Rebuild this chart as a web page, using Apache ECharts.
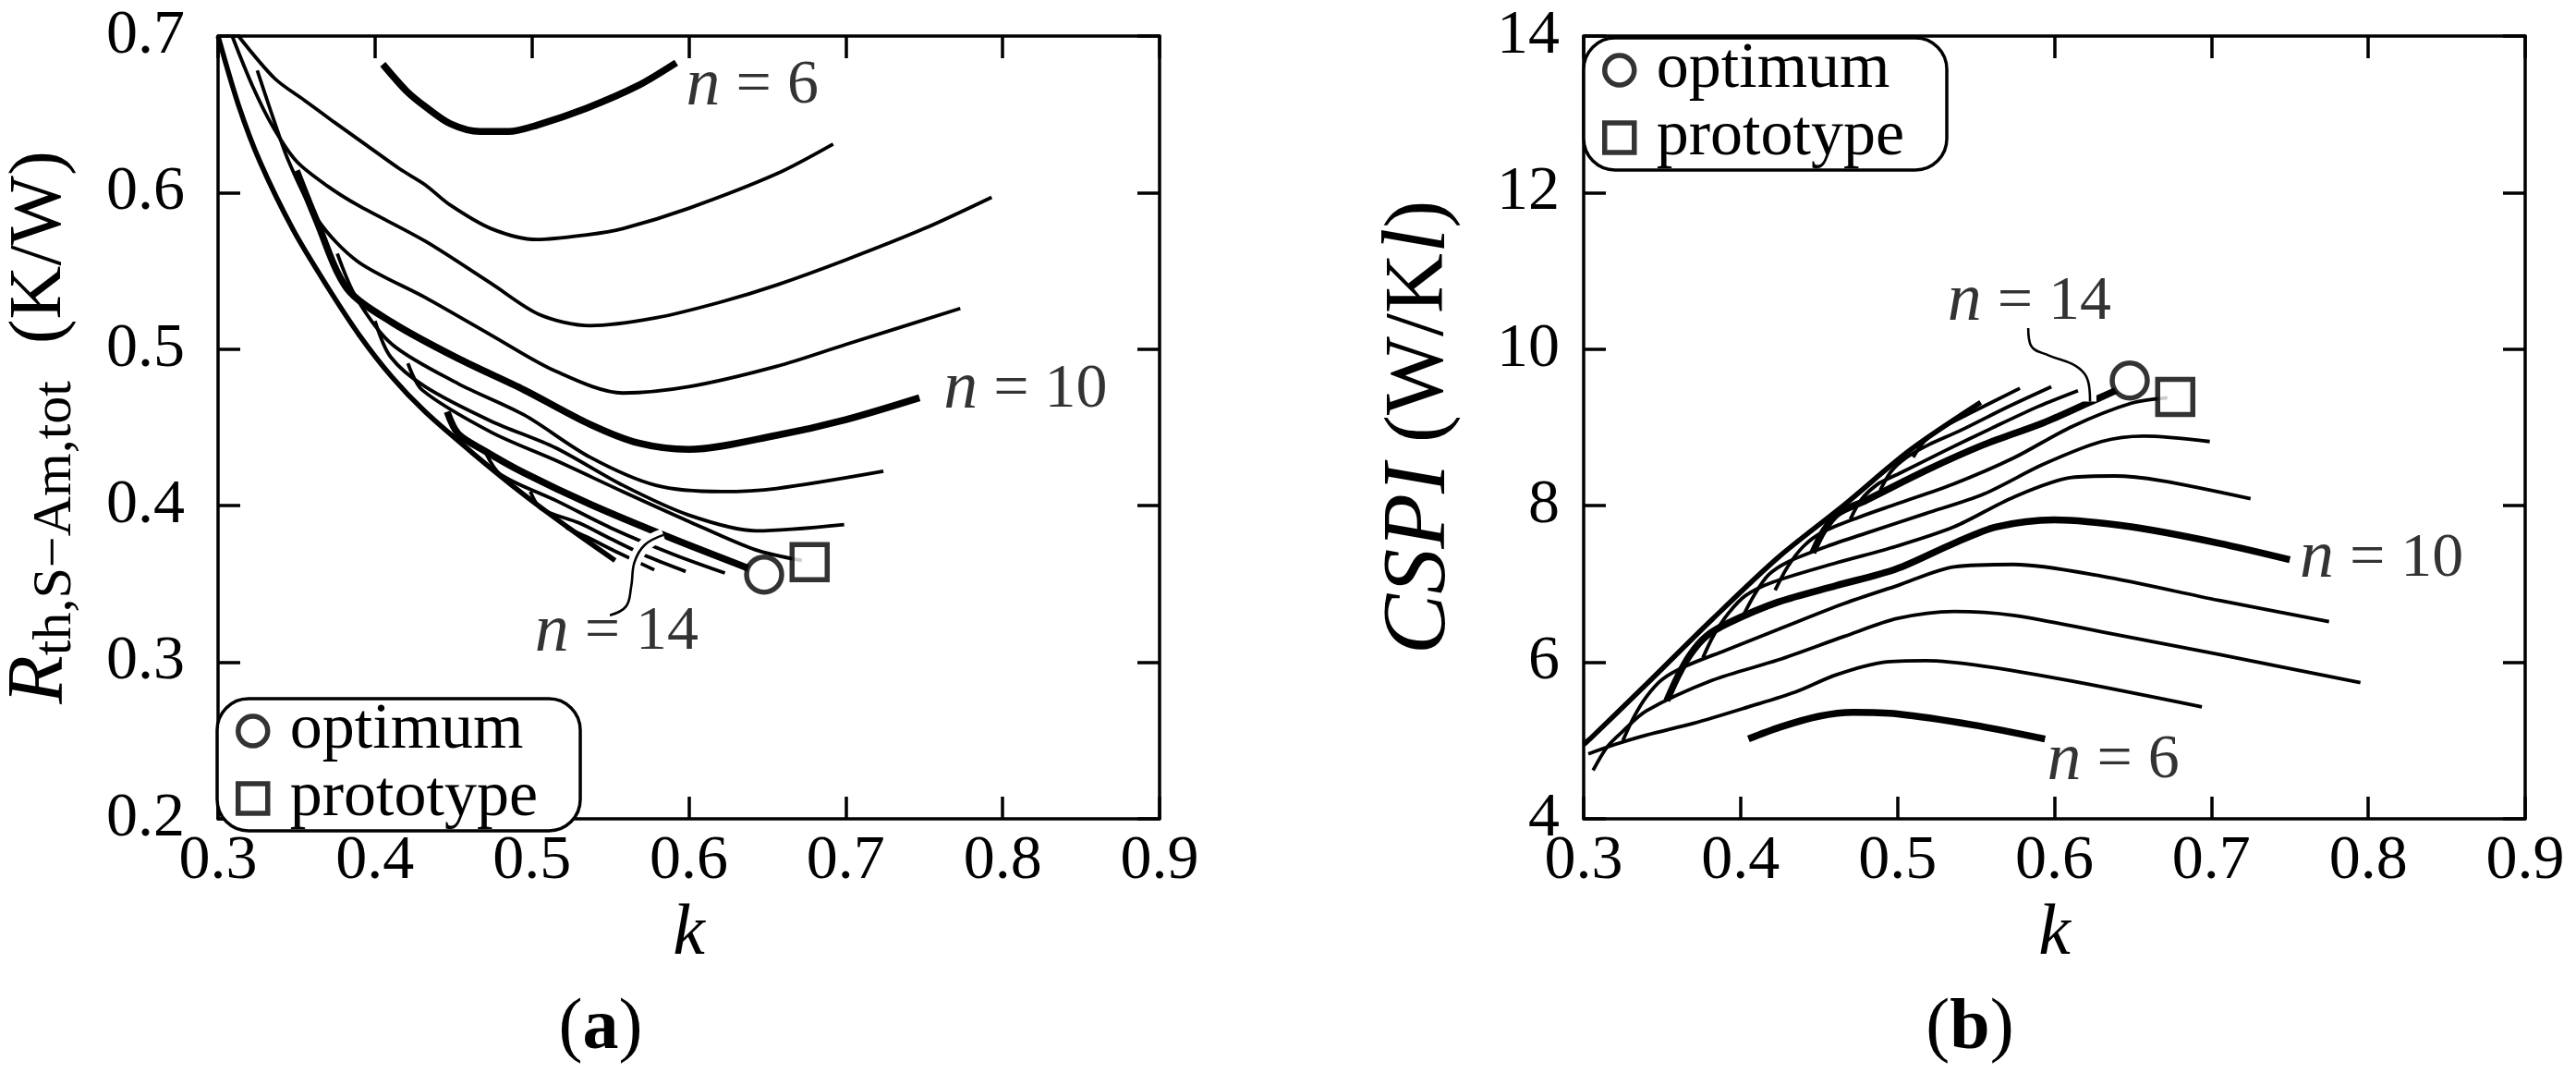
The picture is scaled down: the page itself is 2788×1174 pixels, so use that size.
<!DOCTYPE html>
<html>
<head>
<meta charset="utf-8">
<title>Thermal resistance and CSPI versus k</title>
<script src="https://cdn.jsdelivr.net/npm/echarts@6/dist/echarts.min.js"></script>
<style>
  html, body { margin: 0; padding: 0; background: #fff; }
  #chart { width: 2788px; height: 1174px; }
</style>
</head>
<body>
<div id="chart"></div>
<script>
// fin counts n, one curve per n; thick ones are labelled
const finCounts = [6, 7, 8, 9, 10, 11, 12, 13, 14, 15, 16, 17, 18];
const thickCounts = [6, 10, 14];

// (a) R_th,S-Am,tot (K/W) against k
const rth6 = [[0.405,0.682],[0.420,0.665],[0.432,0.655],[0.448,0.644],[0.467,0.639],[0.485,0.639],[0.503,0.643],[0.535,0.654],[0.567,0.668],[0.592,0.683]];
const rth7 = [[0.313,0.700],[0.336,0.673],[0.355,0.659],[0.374,0.645],[0.395,0.630],[0.416,0.615],[0.432,0.605],[0.448,0.592],[0.474,0.577],[0.503,0.570],[0.535,0.573],[0.558,0.577],[0.600,0.590],[0.656,0.612],[0.692,0.631]];
const rth8 = [[0.309,0.700],[0.322,0.668],[0.335,0.642],[0.350,0.620],[0.370,0.604],[0.389,0.592],[0.432,0.569],[0.474,0.542],[0.505,0.522],[0.537,0.515],[0.579,0.520],[0.620,0.530],[0.656,0.541],[0.700,0.557],[0.750,0.577],[0.793,0.597]];
const rth9 = [[0.325,0.678],[0.335,0.648],[0.345,0.620],[0.364,0.582],[0.389,0.556],[0.432,0.533],[0.474,0.509],[0.515,0.486],[0.558,0.472],[0.600,0.476],[0.656,0.489],[0.700,0.503],[0.773,0.526]];
const rth10 = [[0.350,0.614],[0.362,0.584],[0.382,0.539],[0.411,0.517],[0.453,0.494],[0.495,0.474],[0.537,0.452],[0.568,0.440],[0.600,0.436],[0.656,0.445],[0.700,0.455],[0.747,0.469]];
const rth11 = [[0.376,0.561],[0.388,0.533],[0.411,0.503],[0.453,0.478],[0.495,0.458],[0.537,0.431],[0.579,0.413],[0.621,0.409],[0.656,0.411],[0.724,0.422]];
const rth12 = [[0.400,0.518],[0.410,0.495],[0.432,0.476],[0.474,0.454],[0.515,0.437],[0.558,0.413],[0.600,0.394],[0.643,0.384],[0.699,0.388]];
const rth13 = [[0.421,0.491],[0.430,0.474],[0.474,0.447],[0.515,0.429],[0.558,0.409],[0.600,0.390],[0.642,0.372],[0.672,0.365]];
const rth14 = [[0.446,0.460],[0.453,0.446],[0.470,0.435],[0.495,0.421],[0.537,0.401],[0.587,0.380],[0.638,0.360]];
const rth15 = [[0.471,0.433],[0.480,0.420],[0.516,0.403],[0.550,0.386],[0.590,0.369],[0.623,0.357]];
const rth16 = [[0.499,0.409],[0.506,0.398],[0.530,0.389],[0.550,0.379],[0.575,0.367],[0.598,0.358]];
const rth17 = [[0.522,0.386],[0.535,0.380],[0.555,0.370],[0.578,0.359]];
const rth18 = [[0.300,0.700],[0.313,0.656],[0.327,0.619],[0.348,0.576],[0.369,0.541],[0.390,0.509],[0.411,0.482],[0.432,0.460],[0.463,0.433],[0.495,0.407],[0.526,0.384],[0.553,0.365]];

// (b) CSPI (W/Kl) against k
const cspi6 = [[0.405,5.02],[0.425,5.17],[0.450,5.31],[0.472,5.36],[0.500,5.34],[0.548,5.20],[0.594,5.02]];
const cspi7 = [[0.303,4.83],[0.320,4.95],[0.340,5.07],[0.370,5.22],[0.405,5.43],[0.435,5.62],[0.461,5.84],[0.491,6.00],[0.518,6.02],[0.555,5.95],[0.611,5.76],[0.694,5.43]];
const cspi8 = [[0.306,4.62],[0.315,4.92],[0.325,5.12],[0.340,5.38],[0.382,5.77],[0.424,6.03],[0.466,6.33],[0.500,6.56],[0.536,6.65],[0.574,6.60],[0.630,6.39],[0.705,6.10],[0.795,5.74]];
const cspi9 = [[0.325,5.00],[0.332,5.30],[0.340,5.56],[0.350,5.78],[0.365,5.95],[0.390,6.15],[0.424,6.42],[0.466,6.75],[0.500,6.98],[0.536,7.22],[0.574,7.25],[0.630,7.10],[0.705,6.79],[0.775,6.52]];
const cspi10 = [[0.353,5.51],[0.360,5.82],[0.368,6.10],[0.378,6.33],[0.392,6.50],[0.424,6.77],[0.461,6.98],[0.499,7.19],[0.536,7.52],[0.563,7.73],[0.600,7.82],[0.649,7.73],[0.705,7.52],[0.750,7.31]];
const cspi11 = [[0.376,6.06],[0.383,6.35],[0.392,6.62],[0.403,6.85],[0.420,7.02],[0.461,7.27],[0.499,7.48],[0.536,7.73],[0.574,8.11],[0.611,8.36],[0.638,8.38],[0.668,8.32],[0.725,8.09]];
const cspi12 = [[0.401,6.57],[0.409,6.87],[0.418,7.12],[0.430,7.28],[0.455,7.48],[0.480,7.65],[0.518,7.90],[0.555,8.15],[0.593,8.53],[0.630,8.82],[0.657,8.89],[0.699,8.82]];
const cspi13 = [[0.422,6.92],[0.430,7.22],[0.440,7.48],[0.452,7.66],[0.475,7.85],[0.499,8.02],[0.536,8.28],[0.574,8.61],[0.611,9.01],[0.649,9.31],[0.672,9.38]];
const cspi14 = [[0.446,7.40],[0.453,7.68],[0.462,7.90],[0.480,8.07],[0.518,8.45],[0.555,8.78],[0.593,9.06],[0.619,9.29],[0.640,9.48]];
const cspi15 = [[0.470,7.83],[0.477,8.08],[0.487,8.27],[0.500,8.40],[0.530,8.70],[0.560,8.99],[0.590,9.27],[0.615,9.47]];
const cspi16 = [[0.489,8.20],[0.496,8.44],[0.506,8.62],[0.520,8.78],[0.540,8.96],[0.570,9.26],[0.598,9.52]];
const cspi17 = [[0.510,8.62],[0.517,8.82],[0.527,8.98],[0.545,9.17],[0.578,9.50]];
const cspi18 = [[0.300,4.95],[0.304,5.02],[0.340,5.72],[0.382,6.55],[0.424,7.34],[0.466,8.01],[0.508,8.71],[0.553,9.32]];

// optimum and prototype points
const optimumA = [0.648, 0.356];
const prototypeA = [0.677, 0.364];
const optimumB = [0.648, 9.60];
const prototypeB = [0.677, 9.39];

// curve labels (n value and where the text sits)
const labelNs = [6, 10, 14];
const labelAtA = [[0.598, 0.668], [0.762, 0.474], [0.554, 0.319]];
const labelAtB = [[0.595, 4.74], [0.756, 7.32], [0.584, 10.60]];

// leader lines from the n = 14 labels
const leaderA = [[0.5497,0.330],[0.560,0.3357],[0.5633,0.3484],[0.5654,0.364],[0.572,0.375],[0.5838,0.3813]];
const leaderB = [[0.5833,10.27],[0.5852,10.04],[0.5964,9.92],[0.6114,9.81],[0.619,9.69],[0.622,9.54],[0.6227,9.33]];

const FONT = 'Liberation Serif';
const rthCurves = [rth6, rth7, rth8, rth9, rth10, rth11, rth12, rth13, rth14, rth15, rth16, rth17, rth18];
const cspiCurves = [cspi6, cspi7, cspi8, cspi9, cspi10, cspi11, cspi12, cspi13, cspi14, cspi15, cspi16, cspi17, cspi18];

const chart = echarts.init(document.getElementById('chart'));

function lineWidth(n) {
  if (thickCounts.indexOf(n) >= 0) return 7.5;
  // the last curve runs along the envelope where several curves overlap
  return n === finCounts[finCounts.length - 1] ? 5.5 : 3.8;
}

function curve(n, data, ax) {
  return {
    type: 'line', name: 'n = ' + n, xAxisIndex: ax, yAxisIndex: ax,
    data: data, symbol: 'none', smooth: 0.3, silent: true, z: 2,
    lineStyle: { color: '#000', width: lineWidth(n) }
  };
}

function leader(data, ax) {
  // white halo first, like the gaps in the printed figure
  return [
    { type: 'line', xAxisIndex: ax, yAxisIndex: ax, data: data, symbol: 'none', smooth: 0.4, silent: true, z: 3,
      lineStyle: { color: '#fff', width: 14 } },
    { type: 'line', xAxisIndex: ax, yAxisIndex: ax, data: data, symbol: 'none', smooth: 0.4, silent: true, z: 4,
      lineStyle: { color: '#000', width: 2.6 } }
  ];
}

function curveLabels(at, ax) {
  return {
    type: 'scatter', xAxisIndex: ax, yAxisIndex: ax, symbolSize: 1, silent: true, z: 6,
    itemStyle: { color: 'rgba(0,0,0,0)' },
    data: at.map((p, i) => ({
      value: p, name: String(labelNs[i]),
      label: labelNs[i] === 14 ? { position: 'inside', align: 'center' } : { position: 'right', distance: 0 }
    })),
    label: {
      show: true, color: '#000', fontFamily: FONT, fontSize: 68,
      formatter: p => '{i|n} = ' + p.name,
      rich: { i: { fontFamily: FONT, fontStyle: 'italic', fontSize: 74, color: '#000' } }
    }
  };
}

function marker(name, value, ax, symbol) {
  return {
    type: 'scatter', name: name, xAxisIndex: ax, yAxisIndex: ax, data: [value],
    symbol: symbol, symbolSize: 38, z: 5,
    itemStyle: { color: '#fff', borderColor: '#000', borderWidth: 5.5 }
  };
}

const axisLine = { lineStyle: { color: '#000', width: 3.5 } };
const axisTick = { inside: true, length: 24, lineStyle: { color: '#000', width: 3.5 } };
const labelFont = { fontFamily: FONT, fontSize: 68, color: '#000' };

function kAxis(grid) {
  return [
    { type: 'value', gridIndex: grid, min: 0.3, max: 0.9, interval: 0.1, position: 'bottom',
      axisLine, axisTick, splitLine: { show: false },
      axisLabel: Object.assign({ margin: 12, showMinLabel: true, showMaxLabel: true, formatter: v => v.toFixed(1) }, labelFont),
      name: 'k', nameLocation: 'middle', nameGap: 86,
      nameTextStyle: { fontFamily: FONT, fontStyle: 'italic', fontSize: 78, color: '#000' } },
    { type: 'value', gridIndex: grid, min: 0.3, max: 0.9, interval: 0.1, position: 'top',
      axisLine, axisTick, splitLine: { show: false }, axisLabel: { show: false } }
  ];
}

const legendBox = {
  orient: 'vertical', itemGap: 3, itemWidth: 70, itemHeight: 32, symbolKeepAspect: true,
  padding: [0, 46, 0, 20], borderColor: '#000', borderWidth: 3.5, borderRadius: 34,
  backgroundColor: '#fff', selectedMode: false,
  itemStyle: { color: '#fff', borderColor: '#000', borderWidth: 5.5 },
  textStyle: { fontFamily: FONT, fontSize: 70, lineHeight: 64, color: '#000' },
  data: [{ name: 'optimum', icon: 'circle' }, { name: 'prototype', icon: 'path://M0,0H10V10H0Z' }]
};

const captionRich = {
  p: { fontFamily: FONT, fontSize: 78, fontWeight: 'normal', color: '#000' },
  b: { fontFamily: FONT, fontSize: 78, fontWeight: 'bold', color: '#000' }
};

const series = [];
finCounts.forEach((n, i) => {
  series.push(curve(n, rthCurves[i], 0));
  series.push(curve(n, cspiCurves[i], 2));
});
series.push(...leader(leaderA, 0), ...leader(leaderB, 2));
series.push(curveLabels(labelAtA, 0), curveLabels(labelAtB, 2));
series.push(marker('optimum', optimumA, 0, 'circle'), marker('prototype', prototypeA, 0, 'rect'));
series.push(marker('optimum', optimumB, 2, 'circle'), marker('prototype', prototypeB, 2, 'rect'));

const option = {
  animation: false,
  backgroundColor: '#fff',
  title: [
    { text: '{p|(}{b|a}{p|)}', left: 645, top: 1070, textAlign: 'center', textStyle: { rich: captionRich } },
    { text: '{p|(}{b|b}{p|)}', left: 2127, top: 1070, textAlign: 'center', textStyle: { rich: captionRich } }
  ],
  legend: [
    Object.assign({ left: 235, top: 756 }, legendBox),
    Object.assign({ left: 1714, top: 41 }, legendBox)
  ],
  grid: [
    { left: 235, top: 39, width: 1020, height: 847 },
    { left: 1714, top: 39, width: 1019, height: 847 }
  ],
  xAxis: kAxis(0).concat(kAxis(1)),
  yAxis: [
    { type: 'value', gridIndex: 0, min: 0.2, max: 0.7, interval: 0.1, position: 'left',
      axisLine, axisTick, splitLine: { show: false },
      axisLabel: Object.assign({ margin: 36, showMinLabel: true, showMaxLabel: true, formatter: v => v.toFixed(1) }, labelFont),
      name: '{r|R}{s|th,S\u2212Am,tot}{u|  (K/W)}', nameLocation: 'middle', nameRotate: 90, nameGap: 146,
      nameTextStyle: { rich: {
        r: { fontFamily: FONT, fontStyle: 'italic', fontSize: 86, color: '#000', lineHeight: 92, verticalAlign: 'middle' },
        s: { fontFamily: FONT, fontSize: 60, color: '#000', lineHeight: 92, verticalAlign: 'bottom' },
        u: { fontFamily: FONT, fontSize: 80, color: '#000', lineHeight: 92, verticalAlign: 'middle' }
      } } },
    { type: 'value', gridIndex: 0, min: 0.2, max: 0.7, interval: 0.1, position: 'right',
      axisLine, axisTick, splitLine: { show: false }, axisLabel: { show: false } },
    { type: 'value', gridIndex: 1, min: 4, max: 14, interval: 2, position: 'left',
      axisLine, axisTick, splitLine: { show: false },
      axisLabel: Object.assign({ margin: 26, showMinLabel: true, showMaxLabel: true }, labelFont),
      name: '{i|CSPI}{u| (W/K}{i|l}{u|)}', nameLocation: 'middle', nameRotate: 90, nameGap: 128,
      nameTextStyle: { rich: {
        i: { fontFamily: FONT, fontStyle: 'italic', fontSize: 98, color: '#000', lineHeight: 98 },
        u: { fontFamily: FONT, fontSize: 90, color: '#000', lineHeight: 98 }
      } } },
    { type: 'value', gridIndex: 1, min: 4, max: 14, interval: 2, position: 'right',
      axisLine, axisTick, splitLine: { show: false }, axisLabel: { show: false } }
  ],
  series: series
};

chart.setOption(option);
</script>
</body>
</html>
